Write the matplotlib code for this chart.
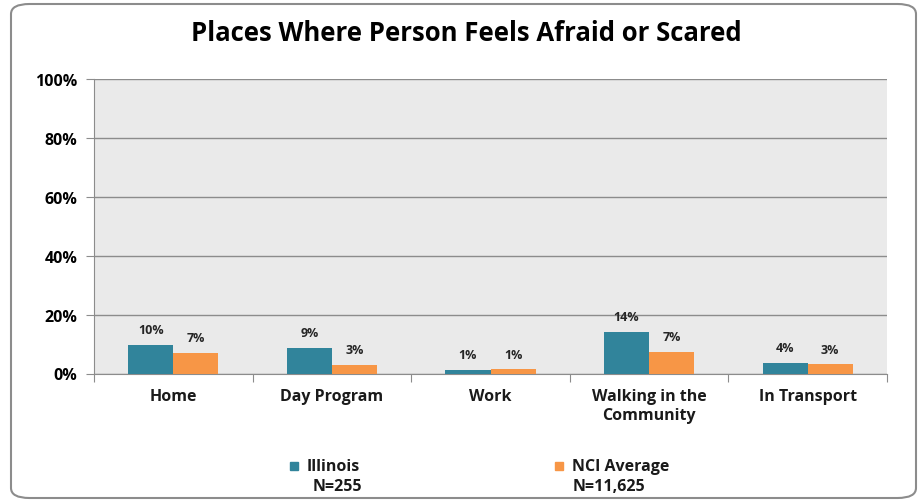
import matplotlib.pyplot as plt
import numpy as np
from matplotlib.patches import FancyBboxPatch, Rectangle

categories = ["Home", "Day Program", "Work", "Walking in the\nCommunity", "In Transport"]
illinois = [9.7, 8.6, 1.1, 14.1, 3.6]
nci = [6.9, 2.9, 1.4, 7.4, 3.1]
series_names = ["Illinois", "NCI Average"]
series_n = ["N=255", "N=11,625"]
yticks = [0, 20, 40, 60, 80, 100]
title = "Places Where Person Feels Afraid or Scared"

teal = "#31849B"
orange = "#F79646"
plt.rcParams['font.family'] = ['Open Sans', 'DejaVu Sans']

fig = plt.figure(figsize=(9.24, 5.02), dpi=100)
W, H = 924, 502
# outer rounded border
border = FancyBboxPatch((11 / W, 3 / H), 905 / W, 494 / H,
                        boxstyle="round,pad=0,rounding_size=0.02",
                        transform=fig.transFigure, facecolor="none",
                        edgecolor="#8C8C8C", linewidth=1.5, zorder=5)
fig.patches.append(border)

ax = fig.add_axes([94 / W, (H - 374.5) / H, (887 - 94) / W, (374.5 - 80) / H])
ax.set_facecolor("#EAEAEA")
x = np.arange(len(categories))
bw = 0.284
ax.bar(x - bw / 2, illinois, bw, color=teal, zorder=3)
ax.bar(x + bw / 2, nci, bw, color=orange, zorder=3)
for i in range(len(categories)):
    ax.text(x[i] - bw / 2, illinois[i] + 3.0, f"{round(illinois[i])}%", ha="center",
            va="bottom", fontsize=9, fontweight="bold", color="#262626")
    ax.text(x[i] + bw / 2, nci[i] + 3.0, f"{round(nci[i])}%", ha="center",
            va="bottom", fontsize=9, fontweight="bold", color="#262626")

ax.set_xlim(-0.5, len(categories) - 0.5)
ax.set_ylim(0, 100)
ax.set_yticks(yticks)
ax.set_yticklabels([f"{t}%" for t in yticks], fontsize=11.5, fontweight="bold")
ax.yaxis.grid(True, color="#8C8C8C", linewidth=1)
ax.set_axisbelow(True)
ax.tick_params(axis="y", length=6, color="#8C8C8C", pad=6)
ax.set_xticks(np.arange(-0.5, len(categories), 1.0))
ax.set_xticklabels([])
ax.tick_params(axis="x", length=6, color="#8C8C8C")
for i, c in enumerate(categories):
    ax.text(x[i], -5.0, c, ha="center", va="top", fontsize=11.5, fontweight="bold",
            color="#1a1a1a", linespacing=1.25)
for s in ["top", "right"]:
    ax.spines[s].set_visible(False)
ax.spines["left"].set_color("#8C8C8C")
ax.spines["bottom"].set_color("#8C8C8C")

fig.text(466 / W, 1 - 34 / H, title, ha="center", va="center", fontsize=18.5,
         fontweight="bold", color="black")

# legend
for (mx, col, name, n, nx) in [(294, teal, series_names[0], series_n[0], 313),
                                (559, orange, series_names[1], series_n[1], 573)]:
    fig.patches.append(Rectangle(((mx - 4) / W, (H - 471) / H), 8 / W, 8 / H,
                                 transform=fig.transFigure, color=col))
    fig.text((mx + 13) / W, 1 - 467 / H, name, ha="left", va="center",
             fontsize=11.5, fontweight="bold", color="#1a1a1a")
    fig.text(nx / W, 1 - 487 / H, n, ha="left", va="center",
             fontsize=11.5, fontweight="bold", color="#1a1a1a")

fig.savefig("out.png", dpi=100)
